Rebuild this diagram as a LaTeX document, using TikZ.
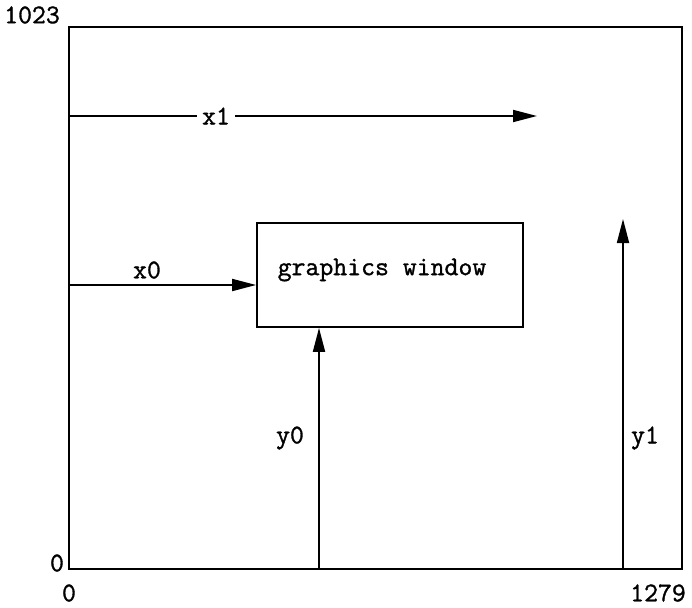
\documentclass[tikz,border=0pt]{standalone}
\usepackage{fontspec}
\newfontfamily\courfont[FakeBold=1.2]{Latin Modern Mono}
\usetikzlibrary{arrows.meta}
\begin{document}
\begin{tikzpicture}[x=1pt,y=-1pt,
  lbl/.style={font=\courfont\fontsize{27}{32}\selectfont, inner sep=1pt},
  frame/.style={draw, line width=1.8pt, minimum width=613pt, minimum height=542pt, inner sep=0pt},
  winbox/.style={draw, line width=1.8pt, minimum width=266pt, minimum height=104pt, inner sep=0pt},
  arr/.style={line width=1.8pt, -{Triangle[length=24pt,width=12pt]}}]
\useasboundingbox (0,0) rectangle (692,607);
\node[frame] (screen) at (375.5,298) {};
\node[winbox] (win) at (390,275) {};
\node[lbl] at (382,270) {graphics window};
% coordinates on the frame
\coordinate (x1s) at (69,116);
\coordinate (x1e) at (537,116);
\coordinate (x0s) at (69,285);
\coordinate (y0s) at (319,569);
\coordinate (y1s) at (623,569);
\coordinate (y1e) at (623,219);
\draw[arr] (x1s) -- (x1e);
\node[lbl, fill=white, inner xsep=5pt] (x1) at (216,116) {x1};
\draw[arr] (x0s) -- (win.west |- x0s);
\node[lbl] (x0) at (147,270) {x0};
\draw[arr] (y0s) -- (y0s |- win.south);
\node[lbl] (y0) at (290,438) {y0};
\draw[arr] (y1s) -- (y1e);
\node[lbl] (y1) at (645,438) {y1};
\node[lbl] (t1023) at (32,15) {1023};
\node[lbl] (zl) at (57,563) {0};
\node[lbl] (zb) at (69,593) {0};
\node[lbl] (t1279) at (658,593) {1279};
\end{tikzpicture}
\end{document}
